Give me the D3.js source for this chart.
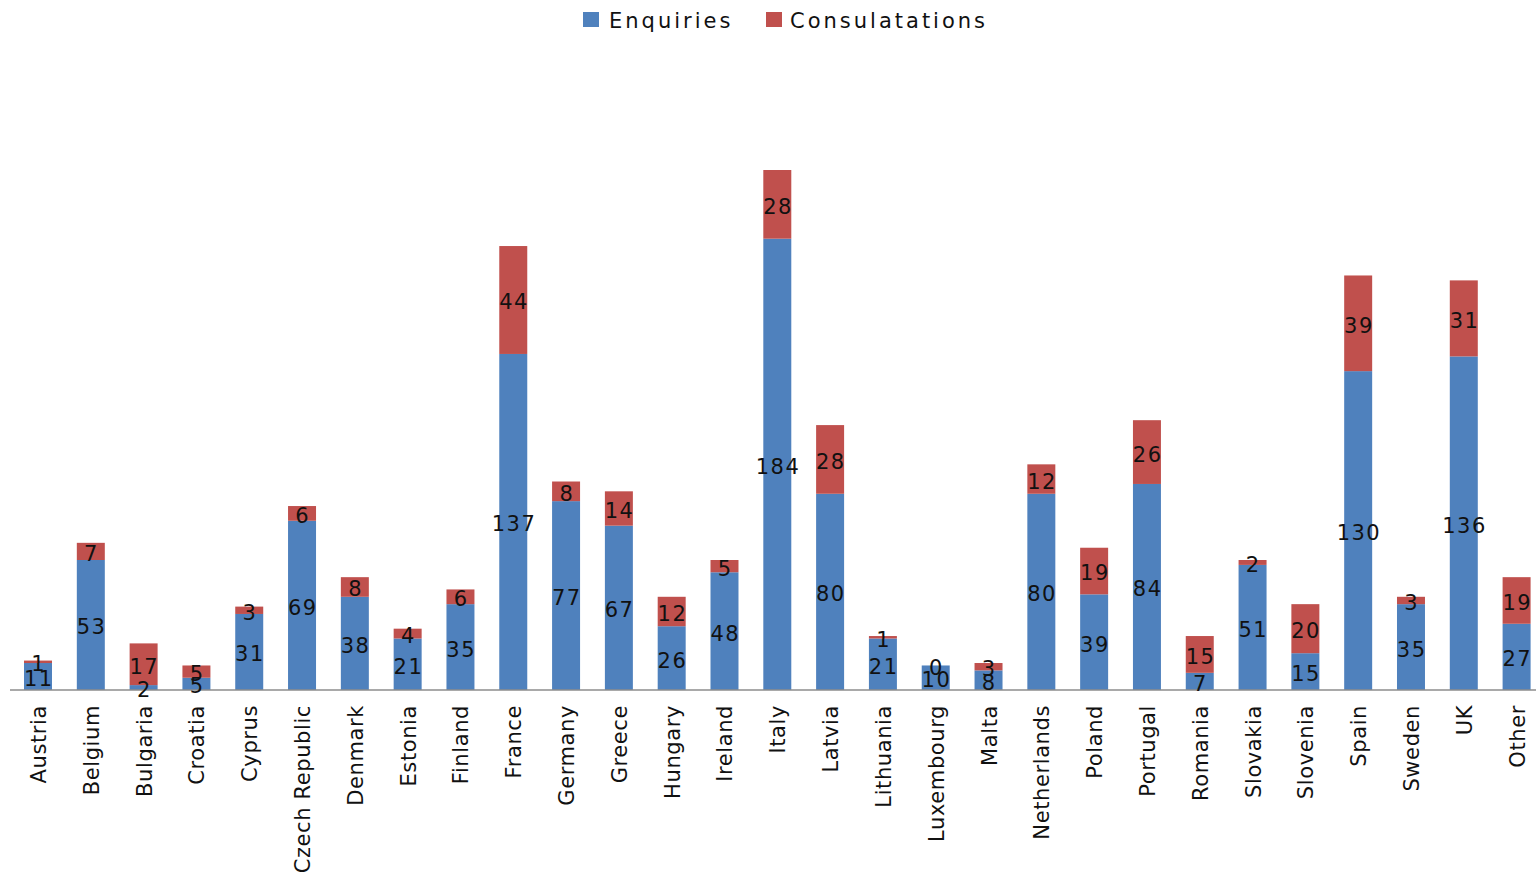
<!DOCTYPE html>
<html><head><meta charset="utf-8">
<script src="https://cdn.jsdelivr.net/npm/d3@7"></script>
<style>body{margin:0;background:#fff;}svg{display:block;}</style>
</head><body>
<svg id="c" width="1536" height="874"></svg>
<script>
const categories = ["Austria","Belgium","Bulgaria","Croatia","Cyprus","Czech Republic","Denmark","Estonia","Finland","France","Germany","Greece","Hungary","Ireland","Italy","Latvia","Lithuania","Luxembourg","Malta","Netherlands","Poland","Portugal","Romania","Slovakia","Slovenia","Spain","Sweden","UK","Other"];
const enquiries = [11,53,2,5,31,69,38,21,35,137,77,67,26,48,184,80,21,10,8,80,39,84,7,51,15,130,35,136,27];
const consultations = [1,7,17,5,3,6,8,4,6,44,8,14,12,5,28,28,1,0,3,12,19,26,15,2,20,39,3,31,19];
const seriesNames = ["Enquiries","Consulatations"];
const colors = ["#4F81BD","#C0504D"];

const svg = d3.select("#c");
const font = "DejaVu Sans";
const baseY = 690;
const x = d3.scaleBand().domain(categories).range([11.6, 1543]).paddingInner(0.47).paddingOuter(0.235);
const y = d3.scaleLinear().domain([0, 212]).range([baseY, 170]);

const rows = categories.map((c,i)=>({cat:c, Enquiries:enquiries[i], Consulatations:consultations[i]}));
const stack = d3.stack().keys(seriesNames)(rows);

const g = svg.append("g");
stack.forEach((s,si)=>{
  g.selectAll(null).data(s).enter().append("rect")
    .attr("x", d=>x(d.data.cat))
    .attr("width", x.bandwidth())
    .attr("y", d=>y(d[1]))
    .attr("height", d=>y(d[0])-y(d[1]))
    .attr("fill", colors[si]);
});

// axis line
svg.append("line").attr("x1",10).attr("x2",1536).attr("y1",baseY).attr("y2",baseY)
  .attr("stroke","#8c8c8c").attr("stroke-width",1.5);

// value labels
stack.forEach((s,si)=>{
  svg.selectAll(null).data(s).enter().append("text")
    .attr("x", d=>x(d.data.cat)+x.bandwidth()/2+0.75)
    .attr("y", d=>(y(d[0])+y(d[1]))/2)
    .attr("dy","0.45em")
    .attr("text-anchor","middle")
    .attr("font-family",font).attr("font-size",21).attr("letter-spacing","1.5px")
    .attr("fill","#111")
    .text(d=>d.data[seriesNames[si]]);
});

// x labels
svg.selectAll(null).data(categories).enter().append("text")
  .attr("transform", d=>`translate(${x(d)+x.bandwidth()/2+8},705) rotate(-90)`)
  .attr("text-anchor","end")
  .attr("font-family",font).attr("font-size",21).attr("letter-spacing","0.6px")
  .attr("fill","#111")
  .text(d=>d);

// legend
const leg = [{n:seriesNames[0],c:colors[0],x:583,tx:609},{n:seriesNames[1],c:colors[1],x:766,tx:790}];
leg.forEach(l=>{
  svg.append("rect").attr("x",l.x).attr("y",12).attr("width",16).attr("height",15).attr("fill",l.c);
  svg.append("text").attr("x",l.tx).attr("y",28).attr("font-family",font).attr("font-size",21)
    .attr("letter-spacing","3px").attr("fill","#111").text(l.n);
});
</script>
</body></html>
